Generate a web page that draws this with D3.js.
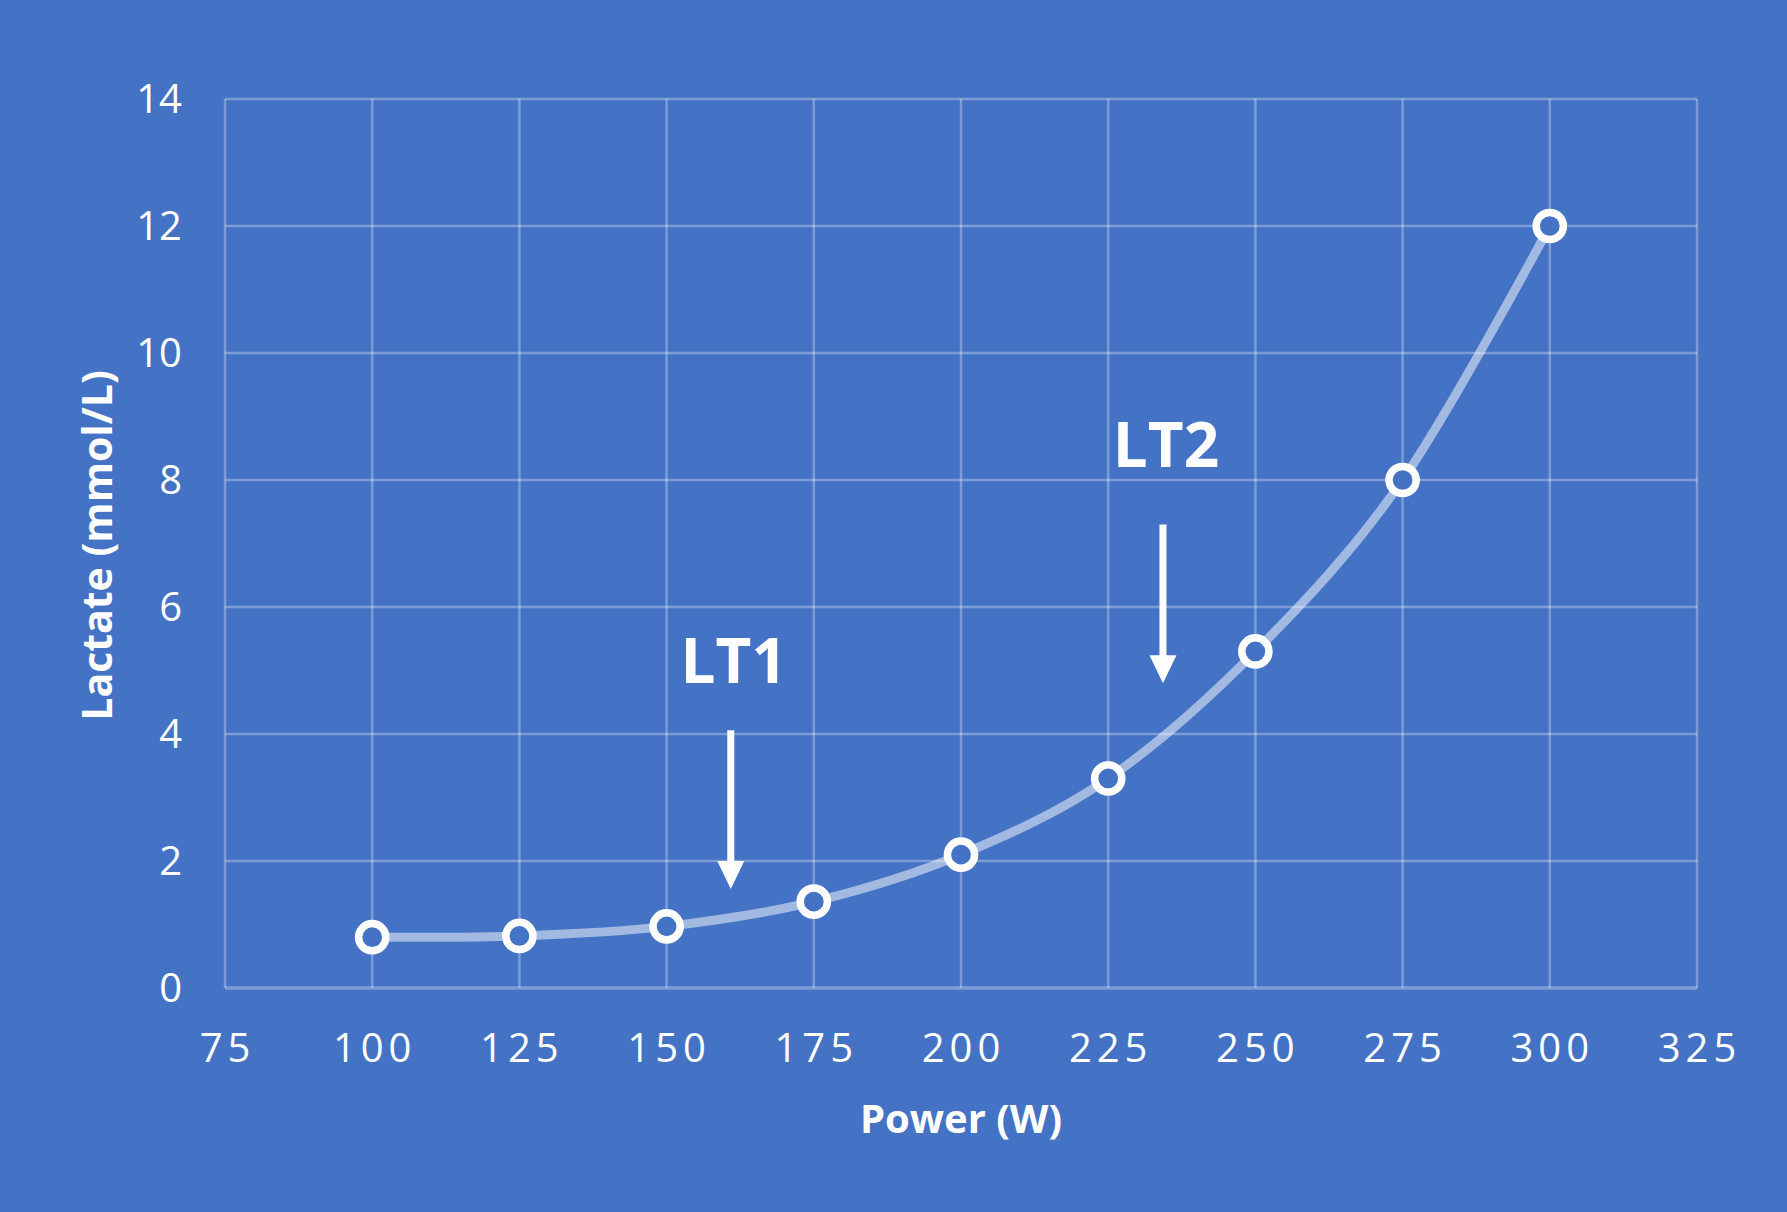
<!DOCTYPE html>
<html>
<head>
<meta charset="utf-8">
<script src="https://cdn.jsdelivr.net/npm/d3@7"></script>
<style>
  body { margin: 0; background: #4472C4; }
  svg { display: block; }
  text { font-family: "Open Sans", sans-serif; fill: #fff; }
</style>
</head>
<body>
<svg id="chart"></svg>
<script>
// data
var power = [100, 125, 150, 175, 200, 225, 250, 275, 300];
var lactate = [0.8, 0.82, 0.97, 1.36, 2.1, 3.3, 5.3, 8.0, 12.0];
var xTicks = [75, 100, 125, 150, 175, 200, 225, 250, 275, 300, 325];
var yTicks = [0, 2, 4, 6, 8, 10, 12, 14];
// threshold markers: power, arrow top, arrow tip, label baseline (mmol/L)
var thresholds = [
  { label: "LT1", power: 160.9, top: 4.06, tip: 1.56, text: 4.8 },
  { label: "LT2", power: 234.3, top: 7.3, tip: 4.8, text: 8.2 }
];

const width = 1787, height = 1212;
const margin = { top: 99, right: 90, bottom: 224, left: 225 };
const bg = '#4472C4';

const svg = d3.select('#chart')
  .attr('width', width)
  .attr('height', height);

svg.append('rect')
  .attr('width', width)
  .attr('height', height)
  .attr('fill', bg);

const x = d3.scaleLinear()
  .domain([75, 325])
  .range([margin.left, width - margin.right]);
const y = d3.scaleLinear()
  .domain([0, 14])
  .range([height - margin.bottom, margin.top]);

// grid
const grid = svg.append('g').classed('grid', true);
grid.selectAll('line.h')
  .data(yTicks)
  .enter().append('line')
  .attr('x1', x(75)).attr('x2', x(325))
  .attr('y1', d => y(d)).attr('y2', d => y(d))
  .attr('stroke', 'rgba(255,255,255,0.3)')
  .attr('stroke-width', d => d == 0 ? 3.5 : 2.5);
grid.selectAll('line.v')
  .data(xTicks)
  .enter().append('line')
  .attr('y1', y(0)).attr('y2', y(14))
  .attr('x1', d => x(d)).attr('x2', d => x(d))
  .attr('stroke', 'rgba(255,255,255,0.3)')
  .attr('stroke-width', 2.5);

// tick labels
svg.append('g').selectAll('text')
  .data(yTicks)
  .enter().append('text')
  .attr('x', x(75) - 43)
  .attr('y', d => y(d))
  .attr('dy', '0.36em')
  .attr('text-anchor', 'end')
  .style('font-size', '40px')
  .text(d => d);

svg.append('g').selectAll('text')
  .data(xTicks)
  .enter().append('text')
  .attr('x', d => x(d) + 2.5)
  .attr('y', y(0) + 60)
  .attr('dy', '0.36em')
  .attr('text-anchor', 'middle')
  .style('font-size', '40px')
  .style('letter-spacing', '5px')
  .text(d => d);

// axis titles
svg.append('text')
  .attr('x', (x(75) + x(325)) / 2)
  .attr('y', 1119)
  .attr('dy', '0.36em')
  .attr('text-anchor', 'middle')
  .style('font-size', '40px')
  .style('font-weight', 'bold')
  .text('Power (W)');

svg.append('text')
  .attr('transform', `translate(97,${(y(0) + y(14)) / 2 + 2}) rotate(-90)`)
  .attr('dy', '0.36em')
  .attr('text-anchor', 'middle')
  .style('font-size', '41px')
  .style('font-weight', 'bold')
  .text('Lactate (mmol/L)');

// smoothed series line
const pts = power.map((p, i) => [p, lactate[i]]);
const line = d3.line()
  .x(d => x(d[0]))
  .y(d => y(d[1]))
  .curve(d3.curveCardinal.tension(0));

svg.append('path')
  .datum(pts)
  .attr('d', line)
  .attr('fill', 'none')
  .attr('stroke', 'rgba(255,255,255,0.5)')
  .attr('stroke-width', 9)
  .attr('stroke-linecap', 'round');

svg.append('g').selectAll('circle')
  .data(pts)
  .enter().append('circle')
  .attr('cx', d => x(d[0]))
  .attr('cy', d => y(d[1]))
  .attr('r', 13.6)
  .attr('fill', bg)
  .attr('stroke', '#fff')
  .attr('stroke-width', 7.5);

// LT annotations
const ann = svg.append('g').classed('thresholds', true);
thresholds.forEach(t => {
  const ax = x(t.power);
  const headLen = 28;
  ann.append('line')
    .attr('x1', ax).attr('x2', ax)
    .attr('y1', y(t.top))
    .attr('y2', y(t.tip) - headLen + 2)
    .attr('stroke', '#fff')
    .attr('stroke-width', 7);
  ann.append('path')
    .attr('d', `M ${ax - 13.5} ${y(t.tip) - headLen} L ${ax + 13.5} ${y(t.tip) - headLen} L ${ax} ${y(t.tip)} Z`)
    .attr('fill', '#fff');
  ann.append('text')
    .attr('x', ax + 3)
    .attr('y', y(t.text))
    .attr('text-anchor', 'middle')
    .style('font-size', '62px')
    .style('font-weight', 'bold')
    .text(t.label);
});
</script>
</body>
</html>
